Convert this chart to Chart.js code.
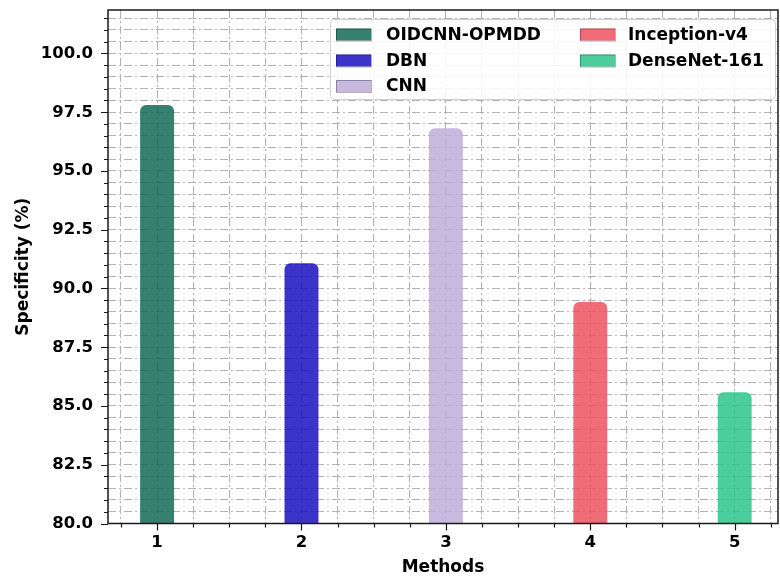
<!DOCTYPE html>
<html>
<head>
<meta charset="utf-8">
<title>Specificity by method</title>
<script src="https://cdn.jsdelivr.net/npm/chart.js@4.4.0/dist/chart.umd.min.js"></script>
<style>
  html, body { margin:0; padding:0; background:#fff; overflow:hidden; }
  canvas { display:block; }
</style>
</head>
<body>
<canvas id="specChart" width="780" height="578"></canvas>
<script>
/* ── data ── */
const METHODS     = ['OIDCNN-OPMDD', 'DBN', 'CNN', 'Inception-v4', 'DenseNet-161'];
const POSITIONS   = [1, 2, 3, 4, 5];
const SPECIFICITY = [97.81, 91.07, 96.82, 89.43, 85.59];
const BAR_COLORS  = ['rgba(20,106,87,0.85)', 'rgba(26,16,190,0.85)', 'rgba(190,174,216,0.85)',
                     'rgba(237,82,94,0.85)', 'rgba(44,197,138,0.85)'];
const Y_MAJOR     = [80, 82.5, 85, 87.5, 90, 92.5, 95, 97.5, 100];
const X_MAJOR     = [1, 2, 3, 4, 5];

const FONT = 'DejaVu Sans';
const boldFont = size => ({ family: FONT, size, weight: 'bold' });

// minor steps: 0.25 on x, 0.5 on y
const xTickValues = () => { const v = []; for (let i = 3; i <= 21; i++) v.push(i * 0.25); return v; };
const yTickValues = () => { const v = []; for (let i = 0; i <= 43; i++) v.push(80 + i * 0.5); return v; };

/* ── frame, tick marks and two-column legend ── */
const framePlugin = {
  id: 'frame',
  afterDraw(chart) {
    const { ctx, chartArea: a, scales: { x, y } } = chart;
    ctx.save();
    ctx.strokeStyle = '#1a1a1a';
    ctx.lineWidth = 1.2;
    ctx.beginPath();
    y.ticks.forEach(t => {
      const py = Math.round(y.getPixelForValue(t.value)) + 0.5;
      const len = Y_MAJOR.includes(t.value) ? 7 : 4;
      ctx.moveTo(a.left - len, py); ctx.lineTo(a.left, py);
    });
    x.ticks.forEach(t => {
      const px = Math.round(x.getPixelForValue(t.value)) + 0.5;
      const len = X_MAJOR.includes(t.value) ? 7 : 4;
      ctx.moveTo(px, a.bottom); ctx.lineTo(px, a.bottom + len);
    });
    ctx.stroke();
    ctx.lineWidth = 1.5;
    ctx.strokeRect(a.left, a.top, a.right - a.left, a.bottom - a.top);
    ctx.restore();
  }
};

const legendPlugin = {
  id: 'twoColLegend',
  afterDraw(chart) {
    const { ctx, chartArea: a } = chart;
    const box = { x: 330, y: 19, w: a.right - 3 - 330, h: 80 };
    ctx.save();
    ctx.beginPath();
    ctx.roundRect(box.x + 0.5, box.y + 0.5, box.w, box.h, 4);
    ctx.fillStyle = 'rgba(255,255,255,0.85)';
    ctx.fill();
    ctx.strokeStyle = '#d0d0d0';
    ctx.lineWidth = 1;
    ctx.stroke();

    const cols = [{ sw: 336, tx: 386 }, { sw: 580, tx: 628 }];
    const rowY = [34.5, 60.5, 86];
    ctx.font = 'bold 17px "' + FONT + '"';
    ctx.textBaseline = 'middle';
    ctx.textAlign = 'left';
    METHODS.forEach((name, i) => {
      const c = cols[Math.floor(i / 3)], ry = rowY[i % 3];
      ctx.fillStyle = BAR_COLORS[i];
      ctx.fillRect(c.sw, ry - 6, 35, 12);
      ctx.strokeStyle = 'rgba(0,0,0,0.3)';
      ctx.strokeRect(c.sw + 0.5, ry - 5.5, 35, 12);
      ctx.fillStyle = '#000';
      ctx.fillText(name, c.tx, ry + 1);
    });
    ctx.restore();
  }
};

const gridLine = { color: '#b2b2b2', lineWidth: 1.1, drawTicks: false, offset: false };
const dashDot = [8, 3, 2, 3];

new Chart(document.getElementById('specChart'), {
  type: 'bar',
  data: {
    datasets: [{
      label: 'Specificity (%)',
      data: POSITIONS.map((p, i) => ({ x: p, y: SPECIFICITY[i] })),
      backgroundColor: BAR_COLORS,
      borderWidth: 0,
      borderRadius: 6,
      // the bar ruler measures against the 0.25 tick spacing, so 0.94 of it is ~0.235 x-units
      barPercentage: 0.94,
      categoryPercentage: 1
    }]
  },
  options: {
    responsive: false,
    animation: false,
    devicePixelRatio: 1,
    layout: { padding: { top: 10, right: 2, left: 0, bottom: 0 } },
    plugins: { legend: { display: false }, tooltip: { enabled: false } },
    scales: {
      x: {
        type: 'linear',
        offset: false,
        min: 0.66, max: 5.3,
        afterBuildTicks: s => { s.ticks = xTickValues().map(value => ({ value })); },
        afterFit: s => { s.height = 54.5; s.paddingLeft = 0; s.paddingRight = 0; },
        grid: gridLine,
        border: { display: false, dash: dashDot },
        ticks: {
          autoSkip: false, maxRotation: 0, padding: 9, color: '#000', font: boldFont(16.5),
          callback: v => X_MAJOR.includes(v) ? String(v) : ''
        },
        title: { display: true, text: 'Methods', color: '#000', font: boldFont(17), padding: { top: 0, bottom: 0 } }
      },
      y: {
        min: 80, max: 101.85,
        afterBuildTicks: s => { s.ticks = yTickValues().map(value => ({ value })); },
        afterFit: s => { s.width = 108; s.paddingTop = 0; s.paddingBottom = 0; },
        grid: gridLine,
        border: { display: false, dash: dashDot },
        ticks: {
          autoSkip: false, padding: 15, color: '#000', font: boldFont(16.5),
          callback: v => Y_MAJOR.includes(v) ? v.toFixed(1) : ''
        },
        title: { display: true, text: 'Specificity (%)', color: '#000', font: boldFont(17), padding: { top: 13, bottom: 0 } }
      }
    }
  },
  plugins: [framePlugin, legendPlugin]
});
</script>
</body>
</html>
